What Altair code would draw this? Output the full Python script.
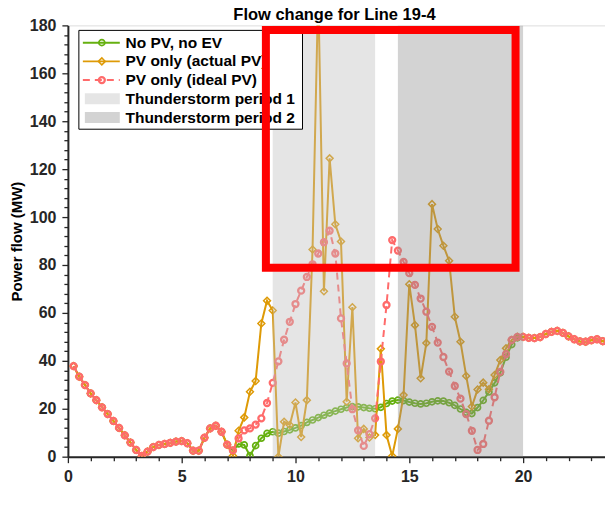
import altair as alt
import numpy as np
import pandas as pd

# ---------------- data ----------------
hours = np.round(np.arange(1, 96) * 0.25, 2)   # 15-minute steps, 0.25 .. 23.75 h

no_pv_no_ev = [
    37.8, 33.4, 29.9, 26.4, 23.6, 20.6, 17.8, 14.9, 12.0, 8.9,
    5.9, 2.8, 0.3, 2.1, 4.0, 4.9, 5.3, 5.8, 6.3, 6.5,
    5.6, 2.5, 2.5, 7.9, 11.8, 12.9, 10.4, 5.0, 2.6, 5.3,
    4.9, 0.4, 4.6, 7.7, 9.7, 10.4, 9.8, 10.5, 11.2, 12.0,
    13.0, 14.3, 15.3, 16.3, 17.3, 18.2, 19.0, 19.8, 20.5, 20.9,
    20.8, 20.5, 20.2, 20.0, 20.6, 22.2, 23.2, 23.6, 23.4, 22.8,
    22.3, 22.0, 22.3, 22.9, 23.3, 23.2, 22.5, 21.4, 19.9, 18.5,
    18.0, 20.5, 23.5, 27.0, 30.8, 35.0, 41.5, 46.8, 49.6, 50.0,
    49.6, 49.5, 49.9, 51.2, 52.1, 52.5, 51.7, 50.2, 49.0, 48.1,
    48.0, 48.6, 49.0, 48.2, 48.0,
]

pv_actual = [
    37.8, 33.4, 29.9, 26.4, 23.6, 20.6, 17.8, 14.9, 12.0, 8.9,
    5.9, 2.8, 0.3, 2.1, 4.0, 4.9, 5.3, 5.8, 6.3, 6.5,
    5.6, 2.5, 2.5, 7.9, 11.8, 12.9, 10.4, 5.0, 0.4, 10.8,
    16.4, 27.1, 31.6, 55.6, 65.1, 61.0, 0.0, 14.6, 13.2, 22.6,
    8.2, 23.6, 86.5, 195.0, 69.0, 124.5, 97.0, 89.8, 22.9, 62.4,
    7.7, 11.6, 8.0, 9.0, 45.0, 9.0, 0.3, 11.6, 25.7, 72.0,
    54.9, 32.7, 47.4, 105.4, 95.0, 88.0, 81.8, 58.4, 48.0, 33.7,
    20.9, 28.0, 30.9, 28.1, 34.1, 40.3, 45.2, 48.7, 50.0, 50.0,
    49.6, 49.5, 49.9, 51.2, 52.1, 52.5, 51.7, 50.2, 49.0, 48.1,
    48.0, 48.6, 49.0, 48.2, 48.0,
]

pv_ideal = [
    37.8, 33.4, 29.9, 26.4, 23.6, 20.6, 17.8, 14.9, 12.0, 8.9,
    5.9, 2.8, 0.3, 2.1, 4.0, 4.9, 5.3, 5.8, 6.3, 6.5,
    5.6, 2.5, 2.5, 7.9, 11.8, 12.9, 10.4, 5.0, 2.6, 7.6,
    11.0, 11.8, 13.4, 16.0, 22.4, 30.8, 39.8, 48.8, 56.3, 63.7,
    69.3, 75.0, 80.3, 84.8, 89.5, 94.3, 84.8, 57.7, 38.9, 19.8,
    11.0, 4.5, 9.4, 16.0, 39.7, 63.3, 90.4, 86.0, 81.3, 76.6,
    71.7, 66.0, 60.5, 54.2, 47.6, 41.6, 35.5, 29.5, 24.2, 17.8,
    10.8, 2.8, 5.3, 15.0, 24.8, 35.4, 42.8, 48.7, 50.0, 50.0,
    49.6, 49.5, 49.9, 51.2, 52.1, 52.5, 51.7, 50.2, 49.0, 48.1,
    48.0, 48.6, 49.0, 48.2, 48.0,
]

series_names = ["No PV, no EV", "PV only (actual PV)", "PV only (ideal PV)"]
storm_names = ["Thunderstorm period 1", "Thunderstorm period 2"]
storm_start = [9.0, 14.5]
storm_end = [13.5, 20.0]

chart_title = "Flow change for Line 19-4"
y_title = "Power flow (MW)"
x_ticks = list(range(0, 24))
y_ticks = list(range(0, 181, 4))

# highlighted region (annotation box), in data units
box_x = [8.7, 19.67]
box_y = [78.8, 178.1]

# ---------------- styling ----------------
FONT = "Liberation Sans"
W, H = 538, 432
AXC = "#262626"
GREEN = "#66b010"
ORANGE = "#de9a06"
PINK = "#ff6b6b"
STORM_FILL = ["#bebebe", "#919191"]
STORM_OPACITY = 0.4

df = pd.DataFrame({"hour": hours, "green": no_pv_no_ev,
                   "orange": pv_actual, "pink": pv_ideal})
storms = pd.DataFrame({"name": storm_names, "start": storm_start, "end": storm_end})

x_scale = alt.Scale(domain=[0, 23.6], nice=False, zero=False)
y_scale = alt.Scale(domain=[0, 180], nice=False)

x_axis = alt.Axis(
    values=x_ticks, labelExpr="datum.value % 5 === 0 ? datum.label : ''",
    title="", grid=False, domainColor=AXC, domainWidth=2, tickColor=AXC, tickWidth=1.3,
    tickSize={"condition": {"test": "datum.value % 5 === 0", "value": 6}, "value": 4},
    labelFont=FONT, labelFontSize=16, labelFontWeight="bold", labelColor=AXC,
    labelPadding=6, labelFlush=False,
)
y_axis = alt.Axis(
    values=y_ticks, labelExpr="datum.value % 20 === 0 ? datum.label : ''",
    title=y_title, grid=False, domainColor=AXC, domainWidth=2, tickColor=AXC, tickWidth=1.3,
    tickSize={"condition": {"test": "datum.value % 20 === 0", "value": 6}, "value": 4},
    labelFont=FONT, labelFontSize=16, labelFontWeight="bold", labelColor=AXC,
    labelPadding=6, titleFont=FONT, titleFontSize=15, titleFontWeight="bold",
    titleColor="black", titlePadding=5,
)

X = alt.X("hour:Q", scale=x_scale, axis=x_axis)


def Y(field):
    return alt.Y(f"{field}:Q", scale=y_scale, axis=y_axis)


base = alt.Chart(df)

green_line = base.mark_line(color=GREEN, strokeWidth=2, clip=True).encode(x=X, y=Y("green"))
green_pts = base.mark_point(shape="circle", size=36, color=GREEN, strokeWidth=1.7,
                            filled=False, opacity=1, clip=True).encode(x=X, y=Y("green"))
orange_line = base.mark_line(color=ORANGE, strokeWidth=2, clip=True).encode(x=X, y=Y("orange"))
orange_pts = base.mark_point(shape="diamond", size=48, color=ORANGE, strokeWidth=1.5,
                             filled=False, opacity=1, clip=True).encode(x=X, y=Y("orange"))
pink_line = base.mark_line(color=PINK, strokeWidth=2, strokeDash=[7, 5], clip=True).encode(
    x=X, y=Y("pink"))
pink_pts = base.mark_point(shape="circle", size=36, color=PINK, strokeWidth=2.3,
                           filled=False, opacity=1, clip=True).encode(x=X, y=Y("pink"))

storm_layers = []
for i in range(len(storm_names)):
    storm_layers.append(
        alt.Chart(storms.iloc[[i]]).mark_rect(
            color=STORM_FILL[i], opacity=STORM_OPACITY, clip=True
        ).encode(
            x=alt.X("start:Q", scale=x_scale, axis=x_axis), x2="end:Q",
            y=alt.value(0), y2=alt.value(H),
        )
    )

# ---------------- custom legend (drawn in plot-pixel space) ----------------
LX0, LX1, LY0, LY1 = 11, 235, 5, 104
ROW0, ROWSTEP = 17.3, 18.75
SAMPLE_X0, SAMPLE_X1, SAMPLE_MID, TEXT_X = 15, 52, 34, 57.7
LEGEND_FS = 15.5

legend_layers = [
    alt.Chart(pd.DataFrame({"k": [0]})).mark_rect(
        fill="white", stroke="black", strokeWidth=1
    ).encode(x=alt.value(LX0), x2=alt.value(LX1), y=alt.value(LY0), y2=alt.value(LY1))
]
styles = [
    dict(color=GREEN, dash=[1, 0], shape="circle", size=36, sw=1.7),
    dict(color=ORANGE, dash=[1, 0], shape="diamond", size=48, sw=1.5),
    dict(color=PINK, dash=[7, 5], shape="circle", size=36, sw=2.3),
]
all_names = series_names + storm_names
for i, name in enumerate(all_names):
    ry = ROW0 + ROWSTEP * i
    one = alt.Chart(pd.DataFrame({"label": [name]}))
    if i < len(series_names):
        s = styles[i]
        legend_layers.append(
            one.mark_rule(color=s["color"], strokeWidth=2, strokeDash=s["dash"]).encode(
                x=alt.value(SAMPLE_X0), x2=alt.value(SAMPLE_X1), y=alt.value(ry))
        )
        legend_layers.append(
            one.mark_point(shape=s["shape"], size=s["size"], color=s["color"],
                           strokeWidth=s["sw"], filled=False, opacity=1).encode(
                x=alt.value(SAMPLE_MID), y=alt.value(ry))
        )
    else:
        j = i - len(series_names)
        legend_layers.append(
            one.mark_rect(color=STORM_FILL[j], opacity=STORM_OPACITY).encode(
                x=alt.value(SAMPLE_X0 + 2), x2=alt.value(SAMPLE_X1),
                y=alt.value(ry - 5.5), y2=alt.value(ry + 5.5))
        )
    legend_layers.append(
        one.mark_text(align="left", baseline="middle", font=FONT, fontSize=LEGEND_FS,
                      fontWeight="bold", color="black").encode(
            x=alt.value(TEXT_X), y=alt.value(ry), text="label:N")
    )

# ---------------- chart title (text above the plot area) ----------------
title_layer = alt.Chart(pd.DataFrame({"t": [chart_title]})).mark_text(
    align="center", baseline="alphabetic", font=FONT, fontSize=16.5, fontWeight="bold",
    color="black"
).encode(x=alt.value(W / 2 - 2), y=alt.value(-5), text="t:N")

# ---------------- red annotation box ----------------
box = alt.Chart(pd.DataFrame({"x0": [box_x[0]], "x1": [box_x[1]],
                              "y0": [box_y[0]], "y1": [box_y[1]]})).mark_rect(
    fill="transparent", stroke="#ff0000", strokeWidth=8
).encode(
    x=alt.X("x0:Q", scale=x_scale, axis=x_axis), x2="x1:Q",
    y=alt.Y("y0:Q", scale=y_scale, axis=y_axis), y2="y1:Q",
)

chart = alt.layer(
    green_line, green_pts, orange_line, orange_pts, pink_line, pink_pts,
    *storm_layers, *legend_layers, title_layer, box,
).properties(
    width=W, height=H,
    padding={"left": 68, "top": 25, "right": 0, "bottom": 59},
    autosize=alt.AutoSizeParams(type="none"),
).configure_view(strokeWidth=0).configure(background="white")

chart.save("out.html", embed_options={"renderer": "svg", "actions": False})
